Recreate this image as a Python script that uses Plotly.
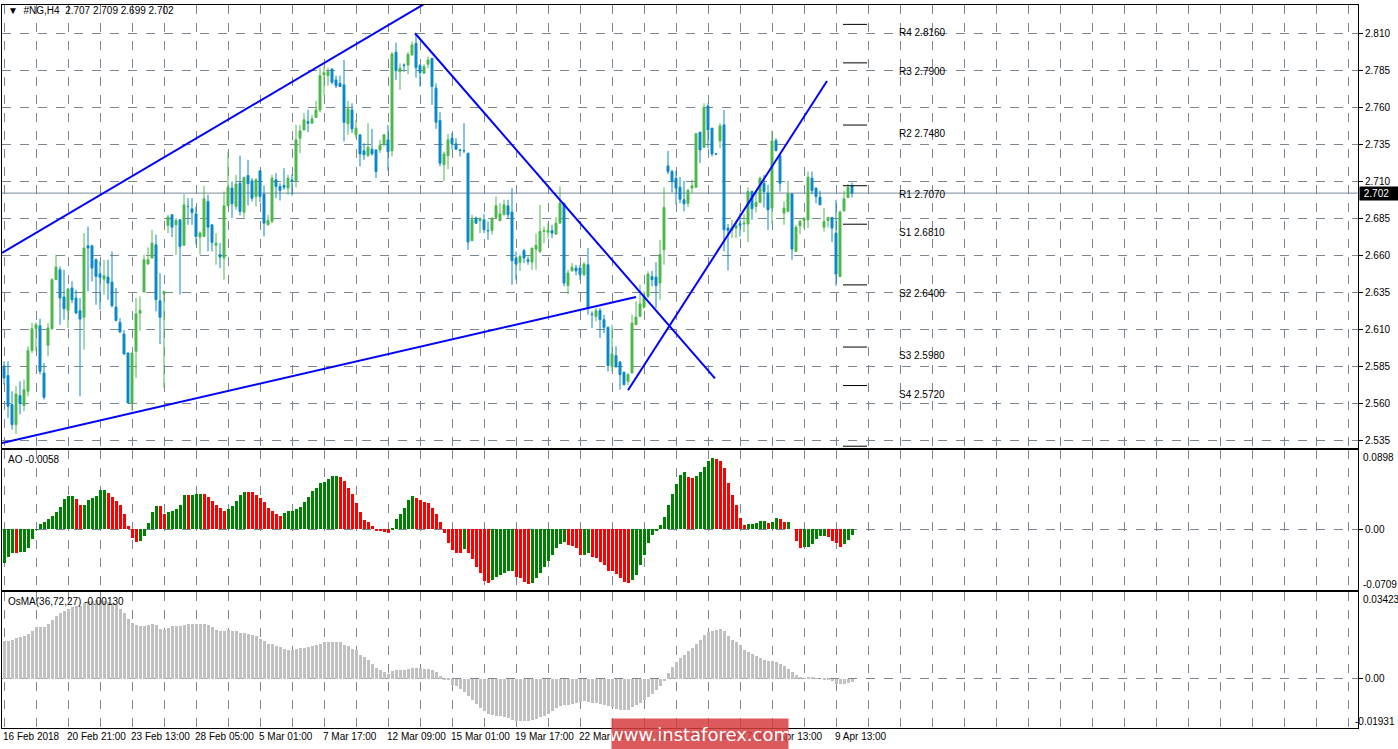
import plotly.graph_objects as go

# ---------------- data (prices in thousandths) ----------------
opens_k = [2585.0,2578.7,2559.1,2545.6,2565.2,2558.4,2568.1,2595.6,2610.4,2612.4,
2580.5,2599.2,2610.4,2643.5,2650.2,2631.8,2622.8,2637.9,2631.1,2622.6,
2618.1,2666.4,2666.4,2657.0,2647.5,2643.9,2645.3,2641.9,2625.0,2614.7,
2606.8,2594.0,2560.2,2595.1,2620.8,2635.2,2654.1,2658.1,2667.1,2629.3,
2633.8,2680.2,2687.4,2680.6,2684.0,2666.7,2693.0,2691.4,2688.0,2672.3,
2672.7,2696.4,2680.6,2666.7,2660.4,2658.1,2693.4,2705.4,2693.0,2708.7,
2689.1,2713.9,2710.3,2699.7,2717.1,2701.3,2680.6,2682.9,2711.0,2706.5,
2707.2,2705.4,2711.0,2710.3,2739.1,2744.7,2750.3,2749.2,2753.1,2758.2,
2781.9,2781.4,2785.9,2778.5,2776.2,2775.1,2748.8,2758.2,2741.4,2741.4,
2730.6,2727.4,2731.7,2731.2,2731.2,2735.1,2738.0,2730.6,2797.2,2784.1,
2788.6,2788.6,2795.4,2803.2,2788.2,2783.0,2789.1,2793.1,2772.9,2751.0,
2721.1,2727.2,2739.1,2735.3,2731.2,2730.8,2729.0,2669.8,2685.1,2683.3,
2684.0,2676.8,2676.8,2685.6,2683.5,2687.4,2693.4,2689.2,2658.1,2655.2,
2663.1,2657.0,2655.4,2664.2,2662.6,2676.1,2675.6,2676.6,2674.3,2681.7,
2695.2,2639.6,2649.5,2651.4,2651.4,2646.9,2653.6,2620.3,2618.7,2622.6,
2616.5,2611.3,2585.0,2592.2,2587.9,2580.9,2574.9,2580.5,2613.1,2618.7,
2624.8,2632.2,2645.7,2645.3,2641.2,2663.7,2720.4,2716.6,2712.1,2706.0,
2697.5,2695.2,2705.4,2706.0,2743.2,2733.0,2760.9,2745.9,2728.5,2737.3,
2748.1,2678.4,2676.8,2678.4,2681.3,2681.1,2681.1,2703.1,2693.0,2695.7,
2708.7,2702.0,2691.9,2737.5,2727.2,2688.5,2689.6,2701.5,2662.6,2679.9,
2683.5,2684.0,2712.1,2705.4,2699.3,2679.0,2683.5,2685.6,2675.0,2645.7,
2690.1,2699.1,2707.0]
highs_k = [2588.4,2588.4,2568.1,2571.5,2574.9,2576.0,2598.5,2614.2,2614.7,2617.2,
2587.2,2614.2,2644.6,2660.4,2652.5,2650.2,2637.9,2642.4,2636.7,2631.1,
2675.0,2679.5,2667.1,2658.1,2655.9,2657.0,2657.0,2662.6,2637.9,2617.6,
2609.7,2594.0,2594.0,2631.1,2632.2,2660.4,2665.3,2677.2,2673.9,2648.0,
2635.6,2687.4,2687.4,2685.1,2684.0,2701.3,2698.6,2698.6,2693.0,2676.1,
2706.9,2700.9,2680.6,2675.0,2668.2,2703.1,2730.1,2709.9,2714.4,2727.4,
2713.2,2724.5,2712.1,2712.1,2717.1,2707.2,2687.4,2714.4,2715.5,2708.7,
2718.9,2714.4,2714.8,2748.1,2748.1,2756.0,2758.2,2754.9,2764.3,2786.8,
2787.5,2786.8,2785.9,2781.4,2781.4,2792.0,2764.3,2762.7,2751.5,2741.4,
2735.7,2749.2,2745.4,2731.2,2738.0,2741.4,2748.1,2797.2,2803.7,2789.7,
2789.7,2797.2,2804.4,2810.0,2789.1,2789.1,2794.2,2793.1,2776.2,2756.6,
2730.1,2742.0,2742.5,2739.1,2731.9,2749.2,2729.0,2687.4,2686.2,2685.1,
2687.8,2682.9,2685.6,2699.7,2695.2,2697.5,2697.5,2705.4,2662.6,2660.4,
2664.4,2659.2,2664.9,2674.7,2694.1,2679.5,2681.7,2680.6,2685.8,2706.5,
2695.2,2650.2,2654.7,2653.6,2653.6,2655.4,2664.9,2622.1,2624.4,2624.4,
2619.9,2612.0,2613.1,2598.5,2588.4,2581.6,2580.5,2619.9,2628.9,2640.1,
2635.6,2649.1,2649.5,2655.4,2670.5,2706.0,2730.6,2717.7,2717.1,2712.8,
2710.3,2704.9,2711.0,2742.5,2743.2,2762.7,2762.7,2745.9,2729.0,2749.2,
2758.2,2681.1,2684.0,2682.9,2688.5,2687.8,2706.0,2703.6,2703.8,2713.2,
2714.4,2707.6,2744.1,2739.1,2729.0,2696.4,2710.3,2701.5,2680.6,2684.0,
2685.6,2716.6,2716.6,2705.8,2703.6,2691.9,2685.8,2685.6,2697.5,2690.3,
2703.6,2708.1,2709.0]
lows_k = [2572.6,2550.1,2542.2,2539.3,2552.4,2554.6,2564.7,2594.0,2595.1,2579.4,
2562.5,2591.7,2609.7,2644.6,2613.1,2616.5,2610.9,2627.7,2620.3,2564.7,
2596.2,2635.6,2642.4,2626.6,2623.2,2633.4,2630.0,2624.8,2615.4,2607.5,
2592.9,2560.2,2554.6,2577.1,2609.0,2635.2,2653.6,2658.1,2622.1,2600.0,
2570.4,2675.0,2672.3,2660.4,2633.4,2666.7,2680.6,2680.6,2667.1,2660.4,
2672.7,2662.6,2662.6,2653.6,2651.4,2643.5,2693.0,2685.1,2690.7,2686.9,
2685.6,2693.7,2696.4,2693.0,2695.9,2672.7,2680.2,2681.7,2698.6,2697.0,
2704.2,2700.9,2700.4,2705.8,2728.9,2744.7,2743.2,2749.2,2753.1,2756.6,
2767.9,2774.6,2775.5,2772.9,2774.0,2736.9,2741.4,2742.5,2739.1,2720.0,
2724.5,2726.3,2727.4,2712.1,2729.0,2733.5,2717.1,2726.7,2778.5,2771.7,
2784.1,2782.3,2794.9,2780.1,2774.0,2783.0,2786.4,2761.6,2745.4,2720.0,
2710.3,2718.2,2731.9,2731.2,2726.7,2729.0,2663.7,2669.8,2681.1,2675.0,
2675.0,2670.5,2673.9,2685.6,2682.9,2687.4,2684.7,2640.1,2643.5,2649.5,
2654.7,2653.6,2650.2,2650.2,2661.5,2668.2,2671.6,2671.6,2673.9,2681.7,
2639.0,2633.8,2649.1,2646.4,2643.5,2645.7,2619.9,2610.9,2615.4,2604.1,
2607.5,2581.6,2581.6,2583.9,2569.2,2572.1,2572.6,2580.5,2613.1,2618.7,
2624.4,2631.1,2639.0,2624.4,2630.0,2653.6,2714.8,2702.6,2694.6,2695.2,
2689.6,2692.5,2702.0,2705.4,2722.2,2733.0,2732.4,2726.7,2727.9,2732.4,
2662.6,2649.8,2671.6,2671.6,2672.7,2675.6,2668.9,2684.0,2688.9,2695.2,
2692.3,2677.2,2681.3,2730.1,2703.1,2680.6,2689.2,2657.0,2662.6,2674.3,
2678.4,2678.4,2701.3,2695.2,2694.1,2676.1,2678.8,2668.9,2639.4,2645.3,
2689.2,2698.6,2699.0]
closes_k = [2577.1,2558.0,2545.6,2566.3,2559.8,2569.2,2595.6,2610.4,2613.1,2581.6,
2564.1,2610.9,2643.5,2652.0,2631.1,2623.9,2637.2,2630.0,2621.0,2616.9,
2664.9,2664.9,2651.4,2645.7,2645.1,2646.2,2641.2,2625.9,2616.0,2608.2,
2593.3,2560.2,2594.0,2620.5,2622.8,2657.0,2657.0,2668.2,2630.0,2618.1,
2635.6,2685.8,2679.0,2683.5,2666.0,2694.1,2693.0,2688.9,2672.7,2675.0,
2698.2,2679.0,2668.7,2668.2,2658.8,2693.4,2706.0,2694.8,2708.1,2689.6,
2712.6,2708.3,2698.6,2711.0,2699.7,2681.7,2683.5,2712.1,2706.5,2703.8,
2706.0,2712.1,2710.3,2738.0,2744.1,2751.5,2749.2,2752.2,2758.2,2781.4,
2783.4,2784.1,2776.9,2774.6,2774.0,2749.7,2758.9,2745.4,2745.9,2728.5,
2727.9,2733.0,2728.5,2716.6,2734.2,2741.4,2730.1,2796.0,2784.8,2786.4,
2788.2,2795.8,2802.1,2786.8,2783.4,2787.5,2792.0,2774.0,2749.9,2722.2,
2728.5,2738.0,2735.3,2731.7,2730.8,2730.6,2668.9,2684.0,2681.7,2685.1,
2677.2,2676.6,2685.1,2693.4,2688.0,2694.1,2687.4,2656.3,2654.1,2659.2,
2658.1,2655.9,2664.9,2666.7,2676.1,2676.6,2676.8,2675.0,2681.7,2695.2,
2641.2,2648.0,2651.8,2649.5,2646.9,2654.1,2624.4,2619.9,2622.6,2616.5,
2611.3,2585.6,2593.3,2585.0,2579.4,2572.6,2579.4,2614.2,2618.3,2627.1,
2632.2,2647.3,2643.5,2639.6,2660.4,2692.3,2716.6,2709.9,2705.4,2697.9,
2694.8,2703.8,2706.9,2742.2,2731.2,2760.0,2744.7,2728.5,2728.3,2747.4,
2677.2,2676.8,2678.8,2680.2,2680.2,2681.7,2703.1,2691.4,2695.7,2712.1,
2703.1,2690.7,2737.3,2730.8,2708.7,2691.9,2701.5,2664.2,2679.0,2682.9,
2685.1,2712.8,2703.8,2699.7,2694.1,2682.9,2685.6,2678.4,2647.3,2689.2,
2698.2,2705.8,2702.0]

# Awesome Oscillator, read in units of 0.000385
ao_read = [-100,-82,-70,-71,-68,-67,-55,-28,-2,16,
23,31,40,51,68,90,99,100,91,73,
74,88,93,100,117,118,108,96,85,73,
46,10,-26,-37,-36,-19,20,53,70,70,
47,53,55,60,73,104,103,104,105,106,
105,98,85,73,65,55,60,71,86,103,
113,112,111,103,93,81,63,55,47,40,
48,55,56,61,68,83,96,115,123,138,
143,151,160,161,158,145,125,105,80,53,
28,23,10,-4,-6,-7,-10,1,30,46,
63,88,100,95,88,83,78,63,46,22,
-10,-40,
-62,-70,-70,-58,-72,-90,-112,-130,-154,-160,
-152,-144,-137,-132,-125,-124,-142,-146,-157,-164,
-160,-146,-130,-112,-94,-77,-57,-44,-37,-47,
-50,-57,-77,-76,-72,-82,-85,-97,-107,-124,
-125,-134,-145,-157,-160,-152,-136,-106,-77,-40,
-17,-5,12,36,73,106,136,163,171,156,
153,160,172,188,205,214,210,204,184,140,
103,72,33,12,16,17,18,24,25,18,
23,33,32,22,23,0,-34,-55,-54,-53,
-44,-30,-21,-20,-24,-34,-40,-52,-44,-32,
-17]
AO_UNIT = 0.000385

# OsMA(36,72,27), read in units of 0.0001312
osma_read = [113,115,118,122,125,128,136,144,156,156,
156,166,177,190,198,204,211,216,218,220,
228,233,235,236,236,233,231,228,221,210,
198,181,168,163,160,160,163,165,161,151,
148,153,158,160,160,163,166,166,166,164,
166,161,156,148,143,143,146,145,143,138,
138,136,133,128,120,113,106,106,98,96,
91,88,86,90,93,93,95,98,101,105,
111,112,112,112,112,103,98,91,86,73,
66,56,46,33,28,21,16,23,26,26,
28,31,34,34,32,31,31,28,21,10,
-3,-4,
-17,-22,-30,-40,-52,-64,-75,-86,-97,-104,
-107,-110,-112,-114,-117,-122,-125,-127,-127,-127,
-124,-120,-114,-110,-105,-97,-88,-82,-79,-77,
-75,-72,-69,-67,-69,-72,-72,-75,-79,-82,
-85,-89,-92,-94,-92,-85,-79,-72,-64,-54,
-44,-34,-22,-7,18,36,51,63,73,83,
93,106,118,131,140,145,148,150,143,128,
116,111,101,88,80,75,68,63,58,53,
53,51,46,38,31,21,13,6,2,6,
3,2,0,-2,-4,-7,-15,-15,-14,-12,
-9]
OSMA_UNIT = 0.0001312

time_labels = ["16 Feb 2018", "20 Feb 21:00", "23 Feb 13:00", "28 Feb 05:00", "5 Mar 01:00",
               "7 Mar 17:00", "12 Mar 09:00", "15 Mar 01:00", "19 Mar 17:00", "22 Mar 09:00",
               "27 Mar 01:00", "29 Mar 17:00", "4 Apr 13:00", "9 Apr 13:00"]

pivot_names = ["R4", "R3", "R2", "R1", "S1", "S2", "S3", "S4"]
pivot_values = [2.8160, 2.7900, 2.7480, 2.7070, 2.6810, 2.6400, 2.5980, 2.5720]

# trend lines: (bar index start, price start, bar index end, price end)
trend_lines = [(-0.5, 2.6616, 105.5, 2.8305),
               (-0.5, 2.5331, 158.0, 2.6318),
               (102.75, 2.8100, 177.75, 2.5769),
               (156.0, 2.5688, 205.75, 2.7778)]

last_price = 2.702
main_ticks = [2.535, 2.560, 2.585, 2.610, 2.635, 2.660, 2.685, 2.710, 2.735, 2.760, 2.785, 2.810]
ao_edge_labels = ["0.0898", "-0.0709"]
osma_edge_labels = ["0.03423", "-0.01931"]

# ---------------- figure ----------------
n = len(closes_k)
idx = list(range(n))
opens = [v / 1000 for v in opens_k]
highs = [v / 1000 for v in highs_k]
lows = [v / 1000 for v in lows_k]
closes = [v / 1000 for v in closes_k]
ao = [v * AO_UNIT for v in ao_read]
osma = [v * OSMA_UNIT for v in osma_read]
ao_colors = []
for i, v in enumerate(ao):
    ao_colors.append("#008000" if i == 0 or v > ao[i - 1] else "#ff0000")

GRID = "#7b8794"
FONT = "Liberation Sans"
W, H = 1398, 749
xr = [-0.5, 338.5]

fig = go.Figure()
fig.add_trace(go.Candlestick(
    x=idx, open=opens, high=highs, low=lows, close=closes,
    increasing=dict(line=dict(color="#4cb84c", width=1), fillcolor="#4cb84c"),
    decreasing=dict(line=dict(color="#0a88c8", width=1), fillcolor="#0a88c8"),
    whiskerwidth=0, xaxis="x", yaxis="y", showlegend=False, hoverinfo="skip"))
fig.add_trace(go.Bar(x=idx, y=ao, marker=dict(color=ao_colors, line=dict(width=0)),
                     width=0.75, xaxis="x2", yaxis="y2", showlegend=False))
fig.add_trace(go.Bar(x=idx, y=osma, marker=dict(color="#c0c0c0", line=dict(width=0)),
                     width=0.75, xaxis="x3", yaxis="y3", showlegend=False))

def px_dom(top, bottom):
    return [1 - bottom / H, 1 - top / H]

xdom = [2 / W, 1358 / W]
grid_vals = list(range(0, 339, 8))
label_pos = list(range(0, 16 * len(time_labels), 16))

def xaxis(anchor):
    return dict(domain=xdom, range=xr, anchor=anchor, showline=True, mirror=True,
                linecolor="black", linewidth=1, showgrid=True, gridcolor=GRID,
                griddash="dash", gridwidth=1, zeroline=False, tickvals=grid_vals,
                ticktext=[""] * len(grid_vals), ticks="", fixedrange=True,
                rangeslider=dict(visible=False))

yax_common = dict(side="right", showline=True, mirror=True, linecolor="black",
                  showgrid=True, gridcolor=GRID, griddash="dash", zeroline=False,
                  ticks="outside", ticklen=4, tickcolor="black", fixedrange=True,
                  tickfont=dict(family=FONT, size=10, color="black"))

fig.update_layout(
    width=W, height=H, margin=dict(l=0, r=0, t=0, b=0),
    paper_bgcolor="white", plot_bgcolor="white", bargap=0,
    font=dict(family=FONT, size=10, color="black"),
    xaxis=xaxis("y"), xaxis2=xaxis("y2"), xaxis3=xaxis("y3"),
    yaxis=dict(domain=px_dom(5, 448), range=[2.5298, 2.8291], tickvals=main_ticks,
               ticktext=[f"{v:.3f}" for v in main_ticks], anchor="x", **yax_common),
    yaxis2=dict(domain=px_dom(450, 590), range=[-0.0701, 0.0916],
                tickvals=[0], ticktext=["0.00"], anchor="x2", **yax_common),
    yaxis3=dict(domain=px_dom(592, 728), range=[-0.01931, 0.03423],
                tickvals=[0], ticktext=["0.00"], anchor="x3", **yax_common),
)

shapes = []
for (x0, y0, x1, y1) in trend_lines:
    shapes.append(dict(type="line", xref="x", yref="y", x0=x0, y0=y0, x1=x1, y1=y1,
                       line=dict(color="#0000ff", width=2)))
shapes.append(dict(type="line", xref="x", yref="y", x0=xr[0], x1=xr[1], y0=last_price,
                   y1=last_price, line=dict(color="#778899", width=1), layer="below"))
for v in pivot_values + [2.531]:
    shapes.append(dict(type="line", xref="x", yref="y", x0=209.75, x1=215.75, y0=v, y1=v,
                       line=dict(color="black", width=1)))
fig.update_layout(shapes=shapes)

small = dict(family=FONT, size=10, color="black")
ann = []
for name, v in zip(pivot_names, pivot_values):
    ann.append(dict(x=223.25, y=v, xref="x", yref="y", text=f"{name} {v:.4f}",
                    showarrow=False, xanchor="left", yanchor="top", yshift=-1, font=small))
for p, t in zip(label_pos, time_labels):
    ann.append(dict(x=p, y=1 - 729 / H, xref="x3", yref="paper", text=t, showarrow=False,
                    xanchor="left", yanchor="top", xshift=-3, font=small))
for txt, ypx in zip(ao_edge_labels + osma_edge_labels, [457, 584, 599, 721]):
    ann.append(dict(x=1397 / W, y=1 - ypx / H, xref="paper", yref="paper", text=txt,
                    showarrow=False, xanchor="right" if txt == "-0.01931" else "left",
                    yanchor="middle", font=small)
               if txt == "-0.01931" else
               dict(x=1361 / W, y=1 - ypx / H, xref="paper", yref="paper", text=txt,
                    showarrow=False, xanchor="left", yanchor="middle", font=small))
ann.append(dict(x=1359 / W, y=last_price, xref="paper", yref="y", text=" 2.702   ",
                showarrow=False, xanchor="left", bgcolor="black",
                font=dict(family=FONT, size=10, color="white")))
ann.append(dict(x=6 / W, y=1 - 3 / H, xref="paper", yref="paper",
                text="▼  #NG,H4  2.707 2.709 2.699 2.702", showarrow=False,
                xanchor="left", yanchor="top", font=small))
ann.append(dict(x=6 / W, y=1 - 452 / H, xref="paper", yref="paper", text="AO -0.0058",
                showarrow=False, xanchor="left", yanchor="top", font=small))
ann.append(dict(x=6 / W, y=1 - 594 / H, xref="paper", yref="paper",
                text="OsMA(36,72,27) -0.00130", showarrow=False, xanchor="left",
                yanchor="top", font=small))
# watermark (drawn last so it covers the axis labels beneath it)
ann.append(dict(x=611 / W, y=1 - 718 / H, xref="paper", yref="paper",
                text="www.instaforex.com", showarrow=False, xanchor="left", yanchor="top",
                width=176, height=30, bgcolor="rgba(214,60,64,0.85)", borderpad=0,
                font=dict(family="DejaVu Sans", size=18, color="white")))
fig.update_layout(annotations=ann)

fig.write_html("out.html", config={"displayModeBar": False},
               post_script="document.body.style.margin='0';document.body.style.padding='0';")
